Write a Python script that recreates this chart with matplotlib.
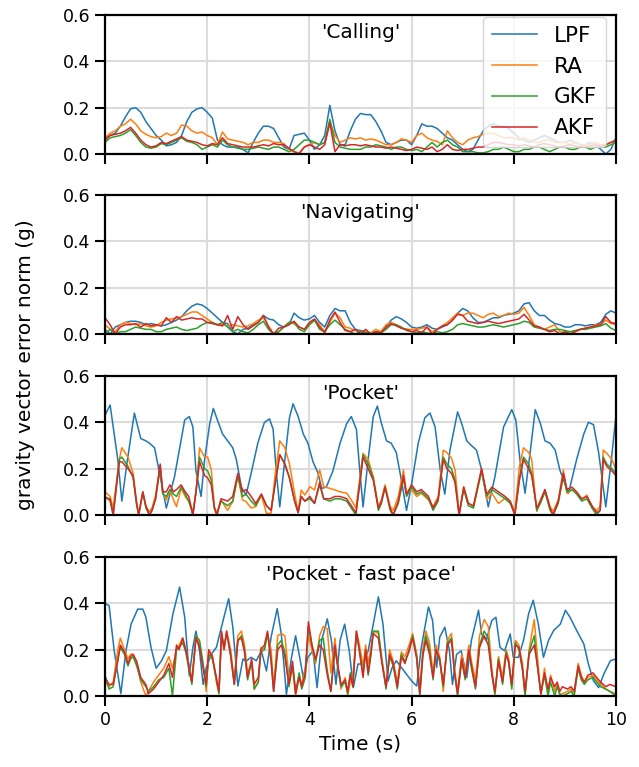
import numpy as np
import matplotlib
matplotlib.use("Agg")
import matplotlib.pyplot as plt

labels = ["LPF", "RA", "GKF", "AKF"]
titles = ["'Calling'", "'Navigating'", "'Pocket'", "'Pocket - fast pace'"]
colors = ["#1f77b4", "#ff7f0e", "#2ca02c", "#d62728"]
x_ticks = [0, 2, 4, 6, 8, 10]
y_ticks = [0.0, 0.2, 0.4, 0.6]

# ---- 'Calling' (sampled every 0.1 s) ----
t_uniform = np.round(np.arange(0, 101) * 0.1, 2)
calling_lpf = [0.07, 0.08, 0.09, 0.12, 0.16, 0.195, 0.2, 0.18, 0.14, 0.11,
               0.08, 0.06, 0.035, 0.04, 0.05, 0.08, 0.14, 0.18, 0.195, 0.2,
               0.18, 0.155, 0.06, 0.04, 0.03, 0.03, 0.03, 0.02, 0.005, 0.05,
               0.09, 0.12, 0.12, 0.11, 0.07, 0.03, 0.02, 0.08, 0.085, 0.09,
               0.06, 0.02, 0.04, 0.08, 0.21, 0.1, 0.04, 0.04, 0.1, 0.15,
               0.175, 0.17, 0.17, 0.14, 0.1, 0.05, 0.04, 0.05, 0.06, 0.06,
               0.04, 0.08, 0.13, 0.12, 0.12, 0.11, 0.09, 0.07, 0.06, 0.04,
               0.02, 0.01, 0.02, 0.06, 0.1, 0.12, 0.13, 0.12, 0.12, 0.11,
               0.09, 0.07, 0.06, 0.05, 0.06, 0.07, 0.08, 0.07, 0.06, 0.05,
               0.05, 0.06, 0.05, 0.04, 0.04, 0.05, 0.04, 0.02, 0.0, 0.02, 0.07]
calling_ra = [0.07, 0.09, 0.1, 0.12, 0.13, 0.15, 0.13, 0.1, 0.085, 0.075,
              0.07, 0.075, 0.09, 0.08, 0.09, 0.125, 0.12, 0.1, 0.09, 0.095,
              0.08, 0.07, 0.04, 0.095, 0.065, 0.06, 0.055, 0.05, 0.04, 0.05,
              0.05, 0.06, 0.06, 0.05, 0.05, 0.045, 0.02, 0.01, 0.005, 0.03,
              0.04, 0.05, 0.04, 0.05, 0.14, 0.08, 0.05, 0.06, 0.07, 0.065,
              0.07, 0.06, 0.065, 0.06, 0.05, 0.04, 0.04, 0.05, 0.065, 0.06,
              0.05, 0.08, 0.09, 0.07, 0.06, 0.055, 0.04, 0.1, 0.07, 0.05,
              0.04, 0.06, 0.07, 0.075, 0.085, 0.09, 0.09, 0.08, 0.07, 0.07,
              0.07, 0.06, 0.07, 0.06, 0.05, 0.05, 0.06, 0.06, 0.05, 0.05,
              0.05, 0.04, 0.05, 0.04, 0.04, 0.04, 0.05, 0.04, 0.04, 0.05, 0.06]
calling_gkf = [0.05, 0.07, 0.075, 0.08, 0.09, 0.105, 0.08, 0.05, 0.03, 0.025,
               0.03, 0.045, 0.04, 0.05, 0.06, 0.07, 0.055, 0.05, 0.04, 0.02,
               0.03, 0.04, 0.03, 0.06, 0.04, 0.03, 0.025, 0.02, 0.02, 0.025,
               0.03, 0.025, 0.02, 0.03, 0.03, 0.02, 0.01, 0.02, 0.04, 0.06,
               0.06, 0.05, 0.04, 0.05, 0.15, 0.05, 0.03, 0.025, 0.02, 0.02,
               0.02, 0.03, 0.03, 0.04, 0.035, 0.03, 0.02, 0.03, 0.03, 0.02,
               0.015, 0.02, 0.01, 0.03, 0.05, 0.03, 0.05, 0.06, 0.04, 0.03,
               0.01, 0.01, 0.01, 0.005, 0.005, 0.01, 0.02, 0.02, 0.03, 0.02,
               0.01, 0.01, 0.02, 0.02, 0.03, 0.03, 0.02, 0.01, 0.02, 0.03,
               0.03, 0.02, 0.02, 0.03, 0.03, 0.02, 0.03, 0.03, 0.03, 0.04, 0.05]
calling_akf = [0.06, 0.08, 0.085, 0.09, 0.1, 0.115, 0.09, 0.06, 0.04, 0.03,
               0.035, 0.05, 0.045, 0.055, 0.065, 0.075, 0.06, 0.055, 0.05, 0.04,
               0.035, 0.045, 0.04, 0.07, 0.045, 0.04, 0.035, 0.03, 0.03, 0.03,
               0.035, 0.04, 0.035, 0.045, 0.04, 0.04, 0.025, 0.01, 0.0, 0.03,
               0.04, 0.03, 0.02, 0.04, 0.135, 0.01, 0.04, 0.035, 0.04, 0.04,
               0.035, 0.04, 0.035, 0.03, 0.03, 0.025, 0.03, 0.025, 0.02, 0.015,
               0.02, 0.03, 0.025, 0.02, 0.03, 0.01, 0.02, 0.04, 0.02, 0.015,
               0.02, 0.02, 0.025, 0.03, 0.03, 0.04, 0.05, 0.05, 0.045, 0.04,
               0.04, 0.035, 0.04, 0.035, 0.03, 0.04, 0.045, 0.04, 0.035, 0.03,
               0.035, 0.04, 0.035, 0.03, 0.03, 0.035, 0.04, 0.035, 0.04, 0.05, 0.06]

# ---- 'Navigating' (sampled every 0.1 s) ----
nav_lpf = [0.02, 0.0, 0.03, 0.04, 0.05, 0.055, 0.055, 0.05, 0.04, 0.045,
           0.04, 0.035, 0.04, 0.05, 0.06, 0.075, 0.1, 0.12, 0.13, 0.125,
           0.11, 0.09, 0.07, 0.05, 0.045, 0.01, 0.0, 0.02, 0.025, 0.04,
           0.05, 0.08, 0.065, 0.06, 0.04, 0.03, 0.04, 0.09, 0.07, 0.06,
           0.065, 0.08, 0.05, 0.03, 0.08, 0.11, 0.1, 0.1, 0.05, 0.02,
           0.015, 0.01, 0.0, 0.005, 0.01, 0.03, 0.06, 0.075, 0.065, 0.05,
           0.03, 0.025, 0.03, 0.04, 0.025, 0.02, 0.03, 0.04, 0.06, 0.09,
           0.11, 0.1, 0.07, 0.05, 0.05, 0.06, 0.07, 0.07, 0.08, 0.085,
           0.09, 0.1, 0.13, 0.135, 0.1, 0.08, 0.08, 0.06, 0.045, 0.04,
           0.03, 0.03, 0.04, 0.04, 0.035, 0.04, 0.04, 0.05, 0.085, 0.1, 0.09]
nav_ra = [0.04, 0.02, 0.01, 0.04, 0.05, 0.045, 0.04, 0.045, 0.035, 0.03,
          0.035, 0.05, 0.06, 0.065, 0.07, 0.075, 0.085, 0.095, 0.095, 0.08,
          0.065, 0.05, 0.04, 0.04, 0.035, 0.04, 0.035, 0.03, 0.035, 0.045,
          0.06, 0.07, 0.035, 0.0, 0.01, 0.03, 0.05, 0.045, 0.03, 0.02,
          0.04, 0.06, 0.04, 0.01, 0.05, 0.09, 0.07, 0.03, 0.025, 0.015,
          0.01, 0.01, 0.005, 0.02, 0.01, 0.04, 0.05, 0.04, 0.025, 0.02,
          0.02, 0.02, 0.025, 0.03, 0.01, 0.02, 0.035, 0.05, 0.07, 0.09,
          0.08, 0.09, 0.09, 0.08, 0.07, 0.085, 0.09, 0.075, 0.08, 0.09,
          0.085, 0.09, 0.115, 0.08, 0.04, 0.03, 0.02, 0.03, 0.04, 0.01,
          0.005, 0.01, 0.01, 0.02, 0.025, 0.03, 0.04, 0.04, 0.06, 0.045, 0.04]
nav_gkf = [0.0, 0.02, 0.0, 0.01, 0.01, 0.02, 0.03, 0.025, 0.02, 0.02,
           0.01, 0.01, 0.02, 0.025, 0.03, 0.02, 0.015, 0.02, 0.025, 0.04,
           0.05, 0.05, 0.04, 0.05, 0.03, 0.01, 0.02, 0.01, 0.005, 0.02,
           0.04, 0.055, 0.02, 0.0, 0.01, 0.03, 0.05, 0.05, 0.02, 0.01,
           0.04, 0.06, 0.02, 0.01, 0.04, 0.06, 0.04, 0.02, 0.01, 0.0,
           0.01, 0.005, 0.0, 0.01, 0.005, 0.02, 0.04, 0.04, 0.03, 0.015,
           0.01, 0.005, 0.01, 0.005, 0.0, 0.01, 0.005, 0.01, 0.02, 0.04,
           0.045, 0.04, 0.035, 0.03, 0.03, 0.035, 0.04, 0.035, 0.03, 0.035,
           0.04, 0.045, 0.055, 0.05, 0.03, 0.025, 0.02, 0.015, 0.02, 0.02,
           0.015, 0.01, 0.015, 0.02, 0.02, 0.025, 0.03, 0.035, 0.045, 0.025, 0.015]
nav_akf = [0.07, 0.04, 0.0, 0.03, 0.04, 0.04, 0.045, 0.03, 0.045, 0.035,
           0.04, 0.035, 0.07, 0.05, 0.075, 0.06, 0.065, 0.07, 0.065, 0.065,
           0.05, 0.045, 0.04, 0.035, 0.08, 0.02, 0.075, 0.04, 0.02, 0.035,
           0.05, 0.08, 0.03, 0.0, 0.025, 0.03, 0.04, 0.055, 0.03, 0.02,
           0.05, 0.065, 0.03, 0.005, 0.06, 0.095, 0.05, 0.015, 0.01, 0.02,
           0.0, 0.02, 0.0, 0.01, 0.005, 0.03, 0.045, 0.035, 0.025, 0.02,
           0.01, 0.015, 0.005, 0.03, 0.0, 0.02, 0.035, 0.04, 0.06, 0.085,
           0.08, 0.055, 0.05, 0.045, 0.05, 0.055, 0.05, 0.045, 0.05, 0.055,
           0.06, 0.065, 0.085, 0.06, 0.035, 0.03, 0.02, 0.01, 0.015, 0.0,
           0.01, 0.0, 0.01, 0.02, 0.025, 0.03, 0.035, 0.04, 0.075, 0.05, 0.045]

# ---- 'Pocket' ----
pocket_lpf_t = [0.0, 0.1, 0.25, 0.33, 0.44, 0.575, 0.7, 0.8, 0.87, 0.97, 1.2, 1.36, 1.56,
                1.65, 1.72, 1.78, 1.88, 1.95, 2.05, 2.12, 2.2, 2.3, 2.4, 2.5, 2.57, 2.67,
                2.76, 2.86, 2.99, 3.12, 3.22, 3.29, 3.35, 3.42, 3.52, 3.61, 3.68, 3.78,
                3.88, 3.97, 4.07, 4.17, 4.24, 4.33, 4.46, 4.6, 4.73, 4.82, 4.92, 4.99,
                5.05, 5.15, 5.25, 5.33, 5.41, 5.51, 5.6, 5.7, 5.8, 5.9, 5.99, 6.13, 6.26,
                6.36, 6.46, 6.56, 6.65, 6.75, 6.9, 6.98, 7.08, 7.17, 7.27, 7.37, 7.5,
                7.63, 7.8, 7.96, 8.04, 8.12, 8.22, 8.32, 8.42, 8.52, 8.61, 8.71, 8.81,
                8.9, 9.07, 9.23, 9.37, 9.46, 9.56, 9.66, 9.8, 9.9, 10.0]
pocket_lpf = [0.43, 0.475, 0.24, 0.06, 0.24, 0.44, 0.33, 0.32, 0.31, 0.29, 0.03, 0.165, 0.41,
              0.425, 0.38, 0.19, 0.08, 0.24, 0.395, 0.46, 0.41, 0.35, 0.32, 0.29, 0.24, 0.12,
              0.086, 0.18, 0.31, 0.4, 0.415, 0.37, 0.19, 0.035, 0.24, 0.42, 0.48, 0.425,
              0.35, 0.31, 0.23, 0.18, 0.115, 0.12, 0.19, 0.31, 0.395, 0.425, 0.37, 0.18,
              0.035, 0.24, 0.425, 0.47, 0.395, 0.32, 0.31, 0.27, 0.15, 0.02, 0.12, 0.31, 0.42,
              0.44, 0.38, 0.195, 0.09, 0.28, 0.445, 0.395, 0.32, 0.3, 0.28, 0.195, 0.035,
              0.165, 0.38, 0.455, 0.41, 0.24, 0.094, 0.27, 0.455, 0.395, 0.32, 0.31, 0.28,
              0.195, 0.094, 0.24, 0.35, 0.4, 0.39, 0.27, 0.035, 0.22, 0.43]
pocket_t = [0.0, 0.1, 0.16, 0.28, 0.33, 0.45, 0.55, 0.62, 0.66, 0.74, 0.8, 0.87, 0.92, 0.99,
            1.08, 1.13, 1.2, 1.27, 1.34, 1.4, 1.49, 1.57, 1.64, 1.72, 1.78, 1.85, 1.95, 2.01,
            2.08, 2.14, 2.19, 2.27, 2.4, 2.5, 2.6, 2.69, 2.76, 2.86, 2.95, 3.06, 3.16, 3.25,
            3.34, 3.42, 3.52, 3.61, 3.71, 3.78, 3.84, 3.91, 4.01, 4.1, 4.2, 4.28, 4.4, 4.5,
            4.6, 4.73, 4.82, 4.91, 4.99, 5.05, 5.15, 5.25, 5.35, 5.41, 5.48, 5.58, 5.64, 5.74,
            5.84, 5.9, 6.0, 6.1, 6.19, 6.33, 6.42, 6.52, 6.62, 6.69, 6.78, 6.85, 6.93, 7.02,
            7.11, 7.21, 7.37, 7.47, 7.57, 7.7, 7.83, 7.93, 8.02, 8.11, 8.19, 8.29, 8.35, 8.45,
            8.52, 8.61, 8.71, 8.77, 8.87, 8.97, 9.04, 9.14, 9.23, 9.33, 9.43, 9.53, 9.62, 9.69,
            9.75, 9.82, 9.92, 10.0]
pocket_ra = [0.1, 0.08, 0.03, 0.24, 0.29, 0.25, 0.18, 0.05, 0.01, 0.094, 0.036, 0.015, 0.03, 0.086,
             0.21, 0.094, 0.065, 0.108, 0.065, 0.036, 0.115, 0.08, 0.058, 0.014, 0.094, 0.29, 0.25, 0.25,
             0.195, 0.036, 0.007, 0.065, 0.02, 0.058, 0.17, 0.065, 0.058, 0.03, 0.036, 0.086, 0.007, 0.007,
             0.195, 0.32, 0.29, 0.22, 0.094, 0.015, 0.108, 0.086, 0.122, 0.108, 0.195, 0.122, 0.115, 0.108,
             0.1, 0.094, 0.065, 0.03, 0.165, 0.266, 0.24, 0.165, 0.036, 0.065, 0.13, 0.036, 0.02, 0.08,
             0.195, 0.094, 0.108, 0.08, 0.094, 0.065, 0.036, 0.08, 0.28, 0.27, 0.245, 0.195, 0.007, 0.122,
             0.05, 0.036, 0.2, 0.065, 0.094, 0.05, 0.072, 0.058, 0.015, 0.21, 0.29, 0.27, 0.24, 0.015,
             0.065, 0.108, 0.036, 0.015, 0.065, 0.195, 0.094, 0.108, 0.094, 0.065, 0.086, 0.036, 0.02, 0.036,
             0.28, 0.266, 0.24, 0.195]
pocket_gkf = [0.08, 0.06, 0.0, 0.24, 0.25, 0.21, 0.16, 0.04, 0.0, 0.1, 0.03, 0.0, 0.02, 0.07,
              0.21, 0.09, 0.08, 0.11, 0.09, 0.08, 0.12, 0.09, 0.06, 0.0, 0.1, 0.25, 0.2, 0.19,
              0.15, 0.03, 0.0, 0.06, 0.04, 0.06, 0.17, 0.08, 0.09, 0.06, 0.04, 0.09, 0.04, 0.02,
              0.15, 0.26, 0.22, 0.16, 0.06, 0.01, 0.08, 0.06, 0.07, 0.05, 0.13, 0.07, 0.06, 0.07,
              0.07, 0.06, 0.03, 0.0, 0.15, 0.26, 0.22, 0.16, 0.02, 0.05, 0.12, 0.02, 0.0, 0.05,
              0.16, 0.08, 0.12, 0.09, 0.1, 0.07, 0.02, 0.06, 0.25, 0.22, 0.2, 0.15, 0.0, 0.11,
              0.04, 0.03, 0.19, 0.08, 0.11, 0.09, 0.07, 0.05, 0.0, 0.16, 0.25, 0.22, 0.18, 0.02,
              0.05, 0.1, 0.02, 0.0, 0.05, 0.17, 0.1, 0.11, 0.09, 0.06, 0.07, 0.03, 0.0, 0.02,
              0.25, 0.22, 0.2, 0.18]
pocket_akf = [0.075, 0.07, 0.0, 0.23, 0.23, 0.2, 0.17, 0.05, 0.0, 0.1, 0.04, 0.0, 0.02, 0.07,
              0.22, 0.1, 0.1, 0.13, 0.1, 0.11, 0.13, 0.1, 0.08, 0.0, 0.1, 0.23, 0.17, 0.16,
              0.13, 0.03, 0.0, 0.07, 0.06, 0.08, 0.18, 0.1, 0.11, 0.08, 0.05, 0.09, 0.04, 0.02,
              0.15, 0.26, 0.22, 0.16, 0.06, 0.01, 0.08, 0.06, 0.08, 0.05, 0.14, 0.07, 0.07, 0.08,
              0.08, 0.07, 0.04, 0.01, 0.14, 0.25, 0.2, 0.15, 0.03, 0.06, 0.12, 0.03, 0.0, 0.06,
              0.17, 0.09, 0.13, 0.1, 0.11, 0.08, 0.03, 0.07, 0.24, 0.2, 0.18, 0.14, 0.0, 0.12,
              0.05, 0.04, 0.2, 0.09, 0.12, 0.1, 0.08, 0.06, 0.0, 0.15, 0.24, 0.2, 0.17, 0.03,
              0.06, 0.11, 0.03, 0.0, 0.06, 0.18, 0.11, 0.12, 0.1, 0.07, 0.08, 0.04, 0.01, 0.02,
              0.24, 0.21, 0.19, 0.17]

# ---- 'Pocket - fast pace' ----
fast_lpf_t = [0.0, 0.08, 0.18, 0.31, 0.41, 0.51, 0.64, 0.74, 0.8, 0.9, 1.0, 1.1, 1.2, 1.33,
              1.46, 1.56, 1.65, 1.72, 1.78, 1.85, 1.92, 1.98, 2.08, 2.18, 2.31, 2.42, 2.5, 2.6,
              2.7, 2.76, 2.86, 2.96, 3.06, 3.16, 3.25, 3.37, 3.45, 3.55, 3.65, 3.73, 3.81, 3.88,
              3.97, 4.07, 4.15, 4.24, 4.35, 4.43, 4.52, 4.6, 4.69, 4.78, 4.86, 4.95, 5.05, 5.15,
              5.25, 5.35, 5.44, 5.54, 5.62, 5.7, 5.8, 5.9, 6.0, 6.1, 6.19, 6.33, 6.41, 6.49, 6.55,
              6.65, 6.74, 6.8, 6.88, 6.97, 7.08, 7.17, 7.31, 7.37, 7.46, 7.57, 7.65, 7.73, 7.82,
              7.93, 7.99, 8.09, 8.19, 8.29, 8.38, 8.48, 8.58, 8.68, 8.78, 8.91, 9.01, 9.1, 9.23,
              9.37, 9.46, 9.56, 9.66, 9.76, 9.89, 10.0]
fast_lpf = [0.4, 0.39, 0.195, 0.01, 0.195, 0.31, 0.375, 0.375, 0.34, 0.21, 0.12, 0.15, 0.195, 0.355,
            0.47, 0.34, 0.087, 0.21, 0.28, 0.195, 0.05, 0.12, 0.18, 0.21, 0.325, 0.42, 0.3, 0.043,
            0.16, 0.15, 0.167, 0.152, 0.195, 0.108, 0.254, 0.377, 0.268, 0.007, 0.167, 0.26, 0.167, 0.08,
            0.167, 0.195, 0.036, 0.24, 0.333, 0.24, 0.05, 0.24, 0.31, 0.195, 0.036, 0.138, 0.138, 0.195,
            0.31, 0.428, 0.31, 0.065, 0.123, 0.152, 0.123, 0.094, 0.065, 0.043, 0.21, 0.384, 0.326, 0.123, 0.254,
            0.297, 0.195, 0.05, 0.18, 0.195, 0.08, 0.24, 0.37, 0.268, 0.24, 0.326, 0.34, 0.21, 0.195,
            0.268, 0.167, 0.167, 0.24, 0.355, 0.413, 0.31, 0.167, 0.24, 0.283, 0.31, 0.37, 0.34, 0.283,
            0.225, 0.138, 0.065, 0.036, 0.094, 0.152, 0.16]
fast_t = [0.0, 0.08, 0.16, 0.25, 0.3, 0.38, 0.45, 0.5, 0.55, 0.62, 0.7, 0.8, 0.85, 0.95, 1.05,
          1.15, 1.25, 1.32, 1.4, 1.45, 1.52, 1.58, 1.64, 1.7, 1.78, 1.85, 1.92, 1.98, 2.03, 2.1,
          2.18, 2.23, 2.28, 2.33, 2.38, 2.46, 2.53, 2.6, 2.67, 2.73, 2.79, 2.87, 2.92, 3.0, 3.05,
          3.12, 3.18, 3.25, 3.3, 3.38, 3.45, 3.52, 3.6, 3.67, 3.73, 3.8, 3.85, 3.92, 3.98, 4.05,
          4.12, 4.2, 4.27, 4.35, 4.42, 4.5, 4.55, 4.62, 4.7, 4.75, 4.8, 4.85, 4.92, 4.98, 5.05,
          5.1, 5.15, 5.2, 5.25, 5.35, 5.42, 5.5, 5.57, 5.64, 5.72, 5.8, 5.87, 5.95, 6.02, 6.1,
          6.16, 6.22, 6.28, 6.35, 6.42, 6.48, 6.55, 6.62, 6.7, 6.78, 6.84, 6.9, 6.98, 7.05, 7.12,
          7.18, 7.25, 7.33, 7.42, 7.5, 7.57, 7.63, 7.7, 7.78, 7.85, 7.9, 7.96, 8.03, 8.1, 8.17,
          8.22, 8.3, 8.4, 8.47, 8.53, 8.6, 8.67, 8.72, 8.8, 8.85, 8.9, 8.95, 9.05, 9.12, 9.18,
          9.26, 9.32, 9.38, 9.45, 9.55, 9.62, 9.7, 9.8, 9.88, 10.0]
fast_ra = [0.06, 0.04, 0.06, 0.2, 0.25, 0.2, 0.16, 0.18, 0.18, 0.14, 0.06, 0.0, 0.02, 0.06, 0.09,
           0.12, 0.17, 0.12, 0.2, 0.22, 0.25, 0.2, 0.14, 0.07, 0.26, 0.23, 0.13, 0.02, 0.19, 0.18,
           0.06, 0.01, 0.27, 0.2, 0.28, 0.2, 0.06, 0.26, 0.28, 0.22, 0.1, 0.14, 0.03, 0.06, 0.21,
           0.2, 0.27, 0.2, 0.04, 0.26, 0.27, 0.26, 0.08, 0.12, 0.0, 0.09, 0.05, 0.12, 0.26, 0.2,
           0.14, 0.26, 0.3, 0.29, 0.1, 0.25, 0.14, 0.03, 0.08, 0.0, 0.06, 0.08, 0.28, 0.22, 0.13,
           0.22, 0.14, 0.2, 0.28, 0.27, 0.16, 0.04, 0.2, 0.15, 0.06, 0.19, 0.17, 0.22, 0.27, 0.18,
           0.03, 0.2, 0.28, 0.23, 0.1, 0.22, 0.17, 0.02, 0.24, 0.27, 0.12, 0.02, 0.18, 0.1, 0.22,
           0.14, 0.07, 0.26, 0.33, 0.3, 0.12, 0.0, 0.17, 0.08, 0.2, 0.16, 0.04, 0.24, 0.22, 0.14,
           0.0, 0.2, 0.33, 0.15, 0.0, 0.12, 0.01, 0.09, 0.02, 0.05, 0.0, 0.01, 0.02, 0.03, 0.0,
           0.14, 0.09, 0.06, 0.08, 0.09, 0.07, 0.05, 0.03, 0.02, 0.01]
fast_gkf = [0.09, 0.03, 0.04, 0.16, 0.21, 0.18, 0.13, 0.16, 0.17, 0.13, 0.07, 0.04, 0.02, 0.04, 0.07,
            0.08, 0.12, 0.0, 0.2, 0.21, 0.23, 0.19, 0.12, 0.05, 0.26, 0.24, 0.14, 0.04, 0.18, 0.16,
            0.07, 0.01, 0.27, 0.21, 0.27, 0.18, 0.05, 0.24, 0.26, 0.2, 0.07, 0.15, 0.03, 0.06, 0.19,
            0.2, 0.27, 0.16, 0.02, 0.22, 0.24, 0.19, 0.04, 0.13, 0.02, 0.1, 0.03, 0.08, 0.3, 0.22,
            0.15, 0.24, 0.25, 0.11, 0.02, 0.2, 0.13, 0.04, 0.06, 0.01, 0.1, 0.05, 0.27, 0.2, 0.09,
            0.19, 0.09, 0.17, 0.28, 0.28, 0.15, 0.03, 0.17, 0.13, 0.03, 0.18, 0.15, 0.19, 0.26, 0.17,
            0.0, 0.17, 0.26, 0.2, 0.07, 0.2, 0.15, 0.04, 0.23, 0.25, 0.1, 0.0, 0.15, 0.07, 0.19,
            0.11, 0.03, 0.22, 0.28, 0.25, 0.09, 0.01, 0.16, 0.05, 0.19, 0.14, 0.03, 0.23, 0.2, 0.11,
            0.0, 0.19, 0.26, 0.11, 0.01, 0.09, 0.0, 0.06, 0.0, 0.04, 0.01, 0.0, 0.01, 0.02, 0.0,
            0.12, 0.07, 0.05, 0.07, 0.08, 0.06, 0.04, 0.03, 0.02, 0.0]
fast_akf = [0.08, 0.05, 0.05, 0.15, 0.22, 0.19, 0.14, 0.17, 0.18, 0.15, 0.08, 0.05, 0.01, 0.03, 0.06,
            0.09, 0.14, 0.08, 0.22, 0.2, 0.25, 0.2, 0.13, 0.06, 0.25, 0.21, 0.12, 0.05, 0.2, 0.17,
            0.08, 0.02, 0.28, 0.2, 0.28, 0.17, 0.05, 0.24, 0.25, 0.19, 0.08, 0.16, 0.05, 0.08, 0.2,
            0.22, 0.28, 0.15, 0.02, 0.2, 0.22, 0.17, 0.05, 0.15, 0.01, 0.08, 0.04, 0.1, 0.32, 0.22,
            0.16, 0.22, 0.2, 0.09, 0.02, 0.22, 0.14, 0.05, 0.07, 0.02, 0.09, 0.04, 0.28, 0.19, 0.08,
            0.2, 0.1, 0.18, 0.27, 0.25, 0.14, 0.04, 0.18, 0.14, 0.04, 0.17, 0.14, 0.2, 0.25, 0.16,
            0.01, 0.18, 0.24, 0.18, 0.08, 0.2, 0.16, 0.05, 0.22, 0.24, 0.1, 0.01, 0.16, 0.08, 0.2,
            0.12, 0.04, 0.21, 0.26, 0.22, 0.1, 0.02, 0.15, 0.06, 0.18, 0.15, 0.05, 0.22, 0.21, 0.12,
            0.02, 0.18, 0.22, 0.12, 0.01, 0.1, 0.03, 0.08, 0.04, 0.06, 0.02, 0.04, 0.03, 0.04, 0.02,
            0.13, 0.08, 0.06, 0.09, 0.1, 0.08, 0.06, 0.04, 0.05, 0.04]

panels = [
    [(t_uniform, calling_lpf), (t_uniform, calling_ra), (t_uniform, calling_gkf), (t_uniform, calling_akf)],
    [(t_uniform, nav_lpf), (t_uniform, nav_ra), (t_uniform, nav_gkf), (t_uniform, nav_akf)],
    [(pocket_lpf_t, pocket_lpf), (pocket_t, pocket_ra), (pocket_t, pocket_gkf), (pocket_t, pocket_akf)],
    [(fast_lpf_t, fast_lpf), (fast_t, fast_ra), (fast_t, fast_gkf), (fast_t, fast_akf)],
]

plt.rcParams.update({
    "font.family": "DejaVu Sans",
    "axes.linewidth": 1.6,
    "xtick.major.size": 7,
    "ytick.major.size": 7,
    "xtick.major.width": 1.5,
    "ytick.major.width": 1.5,
    "xtick.labelsize": 12.5,
    "ytick.labelsize": 12.5,
})

W, H = 639, 767
fig = plt.figure(figsize=(W / 100, H / 100), dpi=100)
left, right = 105, 616
tops = [15, 195, 376, 557]
ph = 139
axes = []
for i, top in enumerate(tops):
    ax = fig.add_axes([left / W, 1 - (top + ph) / H, (right - left) / W, ph / H])
    for (tt, vv), lab, c in zip(panels[i], labels, colors):
        ax.plot(tt, vv, color=c, lw=1.1, label=lab)
    ax.set_xlim(0, 10)
    ax.set_ylim(0, 0.6)
    ax.set_xticks(x_ticks)
    ax.set_yticks(y_ticks)
    ax.set_yticklabels([f"{v:.1f}" for v in y_ticks])
    ax.grid(True, color="#dcdcdc", lw=1.5)
    ax.set_axisbelow(True)
    ax.text(0.5, 0.875, titles[i], transform=ax.transAxes, ha="center", va="center", fontsize=14.5)
    if i < 3:
        ax.tick_params(labelbottom=False)
    axes.append(ax)

axes[0].legend(loc="upper right", fontsize=15.5, borderaxespad=0.1,
               bbox_to_anchor=(0.984, 1.0), handlelength=2.1)
axes[3].set_xticklabels([str(v) for v in x_ticks])
axes[3].set_xlabel("Time (s)", fontsize=14.5)
fig.text(26 / W, 1 - 365 / H, "gravity vector error norm (g)", rotation=90,
         ha="center", va="center", fontsize=14.5)

fig.savefig("out.png", dpi=100)
